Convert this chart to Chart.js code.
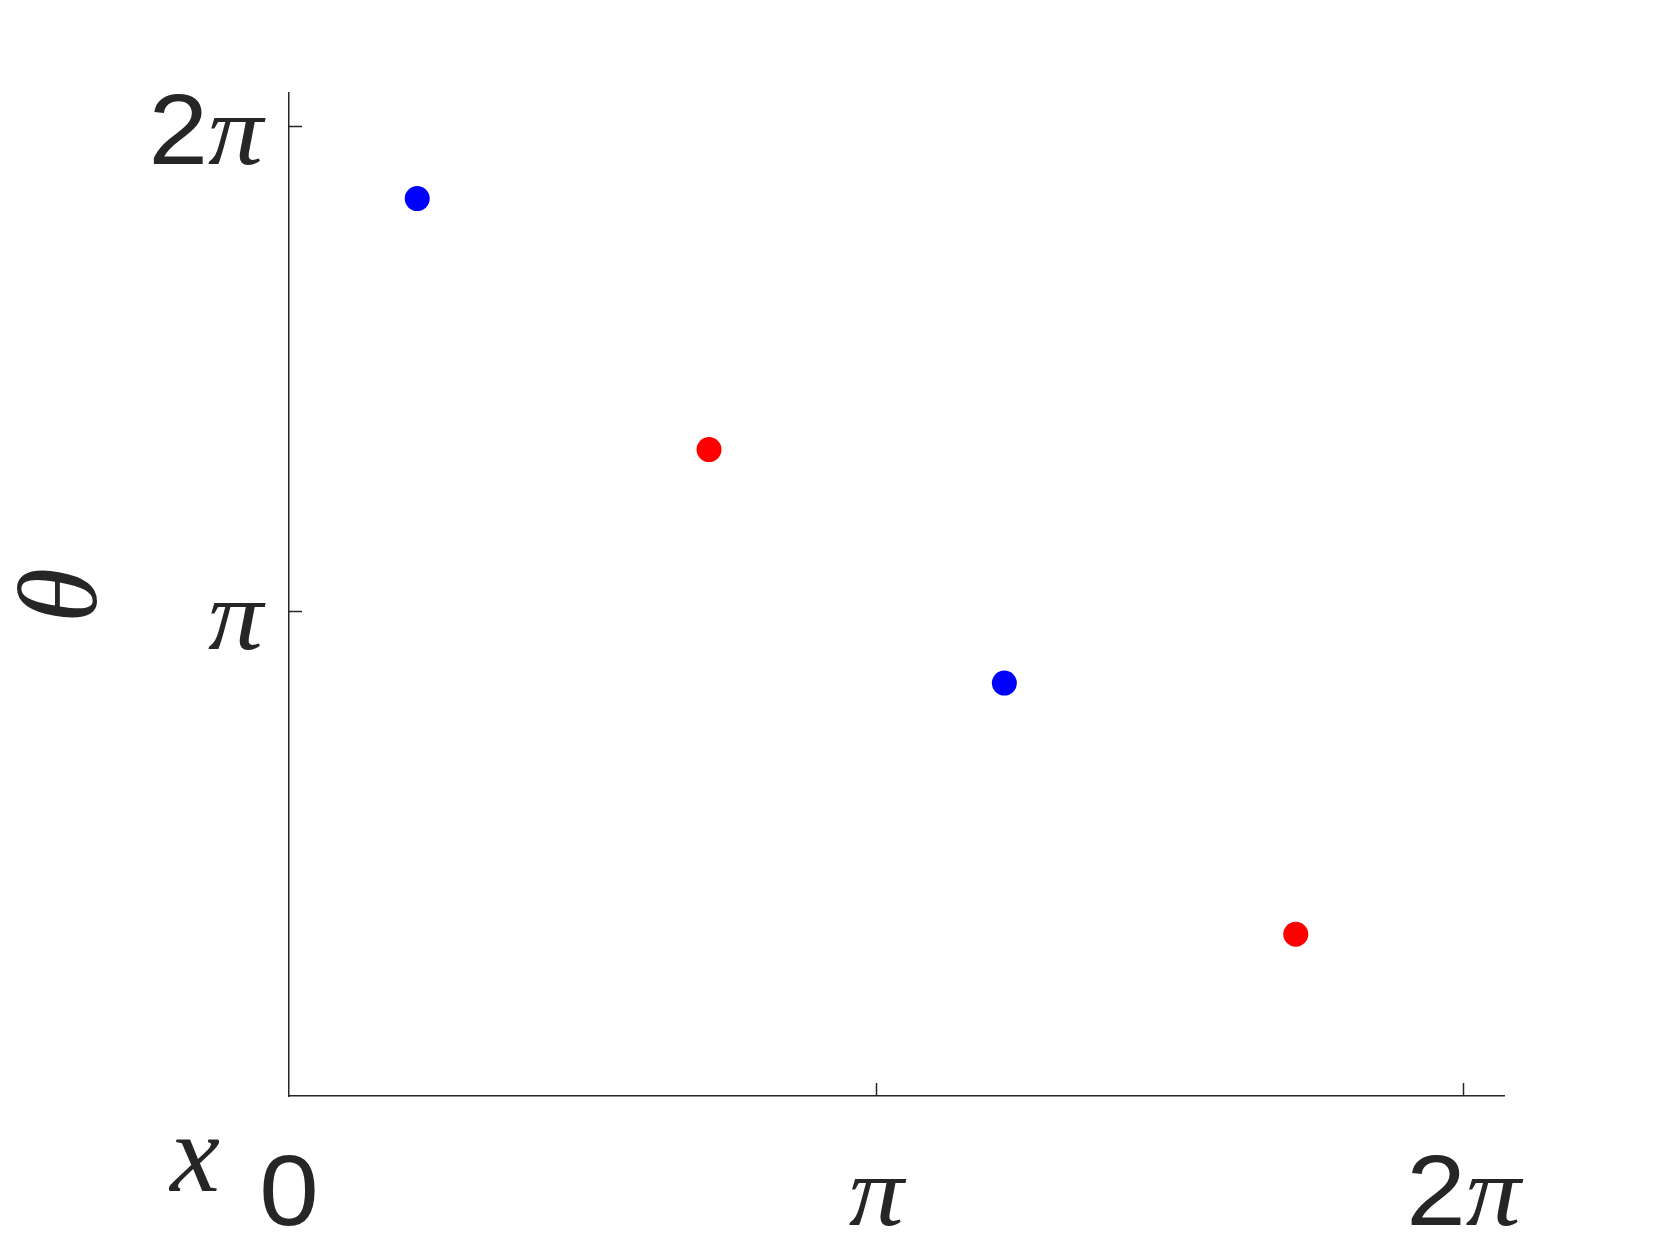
<!DOCTYPE html>
<html>
<head>
<meta charset="utf-8">
<script src="https://cdn.jsdelivr.net/npm/chart.js@4.4.1/dist/chart.umd.min.js"></script>
<style>
  html, body { margin: 0; padding: 0; background: #fff; }
</style>
</head>
<body>
<canvas id="plot" width="1661" height="1246"></canvas>
<script>
// data, in radians
const PI = Math.PI;
const blueX = [0.686, 3.827];
const blueY = [5.816, 2.676];
const redX = [2.247, 5.386];
const redY = [4.189, 1.048];

// axis ticks and their labels
const xTicks = [0, PI, 2 * PI];
const xTickLabels = ["0", "π", "2π"];
const yTicks = [PI, 2 * PI];
const yTickLabels = ["π", "2π"];

const axisColor = "#262626";
const sansFont = '100px "Liberation Sans", Arial, sans-serif';
const mathFont = 'italic 100px "Liberation Serif", "Times New Roman", serif';
const titleFont = 'italic 112px "Liberation Serif", "Times New Roman", serif';

// draw "2π" as upright digit + italic pi (slightly widened, like the TeX glyphs)
function drawMixed(ctx, label, x, y, align) {
  const m = label.match(/^([0-9]*)(π?)$/);
  const parts = [[m[1], sansFont, 1.07], [m[2], mathFont, 1.1]].filter(p => p[0]);
  let total = 0;
  parts.forEach(p => { ctx.font = p[1]; total += ctx.measureText(p[0]).width * p[2]; });
  let cx = align === "right" ? x - total : x - total / 2;
  ctx.textAlign = "left";
  ctx.textBaseline = "alphabetic";
  parts.forEach(p => {
    ctx.font = p[1];
    ctx.save();
    ctx.translate(cx, y);
    ctx.scale(p[2], 1);
    ctx.fillText(p[0], 0, 0);
    ctx.restore();
    cx += ctx.measureText(p[0]).width * p[2];
  });
}

const axesPlugin = {
  id: "mathAxes",
  afterDraw(chart) {
    const ctx = chart.ctx;
    const xs = chart.scales.x, ys = chart.scales.y;
    const area = chart.chartArea;
    ctx.save();
    ctx.strokeStyle = axisColor;
    ctx.fillStyle = axisColor;
    ctx.lineWidth = 1.5;

    // inward tick marks
    xTicks.forEach(v => {
      if (v === 0) return;
      const px = Math.round(xs.getPixelForValue(v)) + 0.5;
      ctx.beginPath();
      ctx.moveTo(px, area.bottom);
      ctx.lineTo(px, area.bottom - 13);
      ctx.stroke();
    });
    yTicks.forEach(v => {
      const py = Math.round(ys.getPixelForValue(v)) + 0.5;
      ctx.beginPath();
      ctx.moveTo(area.left, py);
      ctx.lineTo(area.left + 13, py);
      ctx.stroke();
    });

    // tick labels
    xTicks.forEach((v, i) => {
      drawMixed(ctx, xTickLabels[i], xs.getPixelForValue(v), area.bottom + 129, "center");
    });
    yTicks.forEach((v, i) => {
      drawMixed(ctx, yTickLabels[i], area.left - 26, ys.getPixelForValue(v) + 38, "right");
    });

    // axis titles
    ctx.font = titleFont;
    ctx.textAlign = "center";
    ctx.textBaseline = "alphabetic";
    ctx.fillText("x", area.left - 94, area.bottom + 95);

    ctx.translate(area.left - 193, (area.top + area.bottom) / 2 + 1);
    ctx.rotate(-Math.PI / 2);
    ctx.fillText("θ", 0, 0);
    ctx.restore();
  }
};

new Chart(document.getElementById("plot"), {
  type: "scatter",
  data: {
    datasets: [
      {
        label: "blue",
        data: blueX.map((x, i) => ({ x: x, y: blueY[i] })),
        backgroundColor: "#0000ff",
        borderWidth: 0,
        pointRadius: 12.5,
      },
      {
        label: "red",
        data: redX.map((x, i) => ({ x: x, y: redY[i] })),
        backgroundColor: "#ff0000",
        borderWidth: 0,
        pointRadius: 12.5,
      },
    ],
  },
  options: {
    responsive: false,
    animation: false,
    devicePixelRatio: 1,
    layout: { padding: { left: 289, top: 93, right: 157, bottom: 150 } },
    plugins: { legend: { display: false }, tooltip: { enabled: false } },
    scales: {
      x: {
        type: "linear",
        min: 0,
        max: 6.5,
        ticks: { display: false },
        grid: { display: false, drawTicks: false },
        border: { display: true, color: axisColor, width: 1.5 },
      },
      y: {
        type: "linear",
        min: 0,
        max: 6.5,
        ticks: { display: false },
        grid: { display: false, drawTicks: false },
        border: { display: true, color: axisColor, width: 1.5 },
      },
    },
  },
  plugins: [axesPlugin],
});
</script>
</body>
</html>
